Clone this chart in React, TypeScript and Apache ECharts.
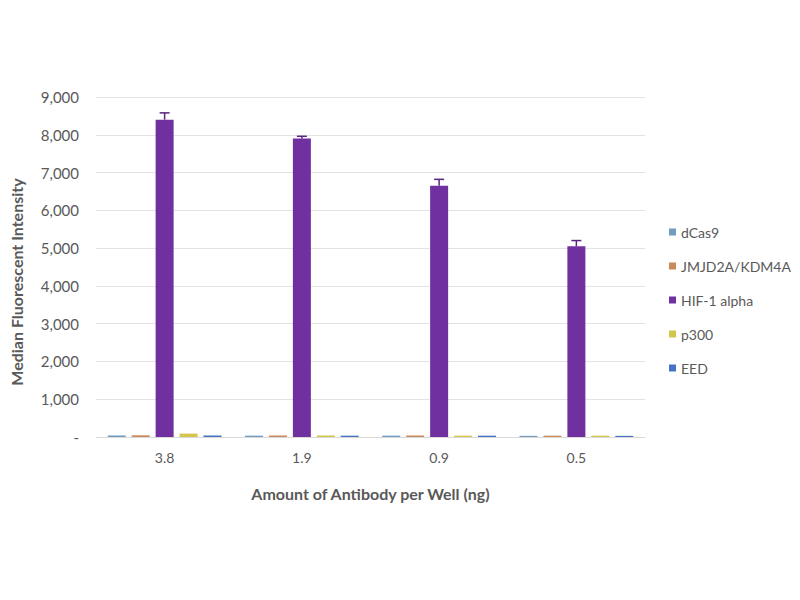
import React, { useEffect, useRef } from 'react';
import * as echarts from 'echarts';

const categories = ['3.8', '1.9', '0.9', '0.5'];
const seriesNames = ['dCas9', 'JMJD2A/KDM4A', 'HIF-1 alpha', 'p300', 'EED'];
const dCas9 = [40, 35, 35, 30];
const jmjd2a = [45, 40, 40, 35];
const hif1a = [8400, 7900, 6650, 5050];
const p300 = [90, 40, 35, 35];
const eed = [40, 35, 35, 30];
const hif1aErr = [180, 60, 170, 150];
const yTicks = [0, 1000, 2000, 3000, 4000, 5000, 6000, 7000, 8000, 9000];

const colors = ['#6f9cc0', '#c98a5c', '#7030a0', '#d3c64c', '#4472c4'];
const textColor = '#595959';
const font = 'Lato, "Open Sans", sans-serif';

const App: React.FC = () => {
  const chartRef = useRef<HTMLDivElement | null>(null);

  useEffect(() => {
    const chart = echarts.init(chartRef.current!, null, { renderer: 'svg' });
    const values = [dCas9, jmjd2a, hif1a, p300, eed];

    const barSeries = seriesNames.map((name, i) => ({
      name,
      type: 'bar',
      data: values[i],
      barWidth: 18,
      barGap: '33%',
      itemStyle: { color: colors[i] },
    }));

    const option = {
      animation: false,
      textStyle: { fontFamily: font },
      grid: { left: 92, right: 155, top: 97, bottom: 163 },
      legend: {
        orient: 'vertical',
        left: 664,
        top: 220,
        itemWidth: 7,
        itemHeight: 7,
        itemGap: 20,
        icon: 'rect',
        data: seriesNames,
        textStyle: { color: textColor, fontSize: 14, fontFamily: font },
      },
      xAxis: {
        type: 'category',
        data: categories,
        name: 'Amount of Antibody per Well (ng)',
        nameLocation: 'middle',
        nameGap: 48,
        nameTextStyle: { color: textColor, fontSize: 16, fontWeight: 'bold', fontFamily: font },
        axisLine: { lineStyle: { color: '#d9d9d9' } },
        axisTick: { show: false },
        axisLabel: { color: textColor, fontSize: 14, margin: 13 },
      },
      yAxis: {
        type: 'value',
        min: yTicks[0],
        max: yTicks[yTicks.length - 1],
        interval: 1000,
        name: 'Median Fluorescent Intensity',
        nameLocation: 'middle',
        nameGap: 72,
        nameTextStyle: {
          color: textColor,
          fontSize: 16,
          fontWeight: 'bold',
          fontFamily: font,
          padding: [0, 30, 0, 0],
        },
        axisLine: { show: false },
        axisTick: { show: false },
        splitLine: { lineStyle: { color: '#e3e3e3' } },
        axisLabel: {
          color: textColor,
          fontSize: 15,
          margin: 17,
          formatter: (v: number) => (v === 0 ? '-' : v.toLocaleString('en-US')),
        },
      },
      series: [
        ...barSeries,
        {
          type: 'custom',
          name: 'err',
          z: 5,
          data: hif1a.map((v, i) => [i, v, hif1aErr[i]]),
          renderItem: (params: any, api: any) => {
            const idx = api.value(0);
            const v = api.value(1);
            const e = api.value(2);
            const top = api.coord([idx, v + e]);
            const base = api.coord([idx, v]);
            const x = top[0];
            const color = '#5a2482';
            return {
              type: 'group',
              children: [
                { type: 'line', shape: { x1: x, y1: base[1], x2: x, y2: top[1] }, style: { stroke: color, lineWidth: 1.5 } },
                { type: 'line', shape: { x1: x - 5, y1: top[1], x2: x + 5, y2: top[1] }, style: { stroke: color, lineWidth: 1.5 } },
              ],
            };
          },
        },
      ],
    };

    chart.setOption(option);
    return () => {
      chart.dispose();
    };
  }, []);

  return <div ref={chartRef} style={{ width: '800px', height: '600px', margin: '-8px' }} />;
};

export default App;
